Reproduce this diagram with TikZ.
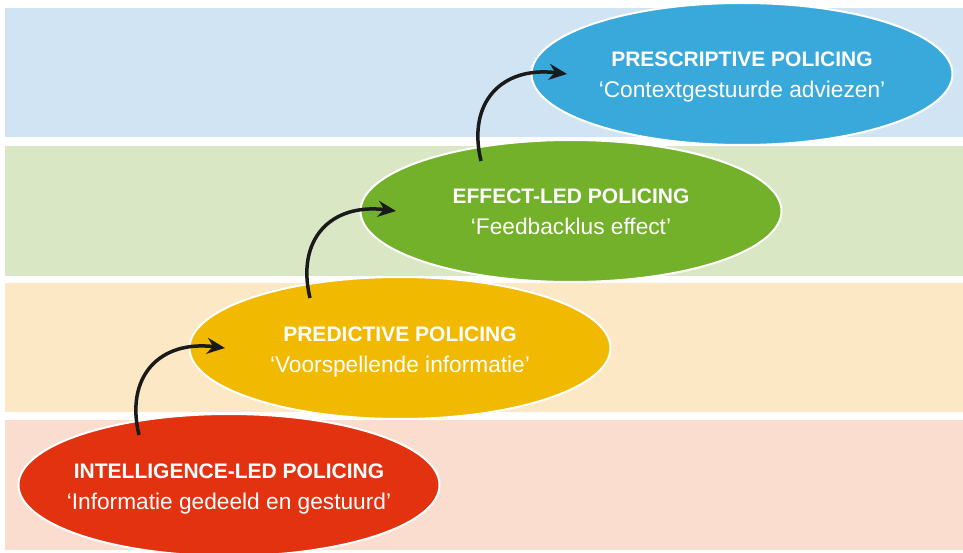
\documentclass[tikz,border=0pt]{standalone}
\usepackage{fontspec}
\setmainfont{Liberation Sans}
\usetikzlibrary{arrows.meta,shapes.geometric}
\definecolor{bandB}{RGB}{209,228,243}
\definecolor{bandG}{RGB}{218,231,197}
\definecolor{bandO}{RGB}{252,232,196}
\definecolor{bandR}{RGB}{250,221,206}
\definecolor{stageB}{RGB}{57,169,219}
\definecolor{stageG}{RGB}{114,177,41}
\definecolor{stageO}{RGB}{241,185,0}
\definecolor{stageR}{RGB}{227,50,16}
\definecolor{arrowK}{RGB}{26,26,26}
\newcommand{\drawband}[3]{\fill[#1] (5,#2) rectangle (963,#3);}
\tikzset{
  stage/.style={ellipse, fill=#1, draw=white, line width=2pt,
    minimum width=421pt, minimum height=142pt, inner sep=0pt},
  stagetitle/.style={text=white, font=\bfseries\fontsize{21}{25}\selectfont,
    anchor=base, yshift=7pt, inner sep=0pt},
  stagesub/.style={text=white, font=\fontsize{22.7}{27}\selectfont,
    anchor=base, yshift=-24pt, inner sep=0pt},
  climb/.style={arrowK, line width=3.5pt,
    -{Stealth[length=18pt, width=16pt, inset=6pt]}}
}
\begin{document}
\begin{tikzpicture}[x=1pt,y=-1pt]
\path[use as bounding box, fill=white] (0,0) rectangle (963,553);
% bands
\drawband{bandB}{8}{137}
\drawband{bandG}{146}{276}
\drawband{bandO}{283}{412}
\drawband{bandR}{420}{550}
% stages
\node[stage=stageB] (spp) at (742,74) {};
\node[stage=stageG] (elp) at (571,211) {};
\node[stage=stageO] (pp) at (400,348) {};
\node[stage=stageR] (ilp) at (229,485) {};
\foreach \st/\head/\sub in {ilp/INTELLIGENCE-LED POLICING/‘Informatie gedeeld en gestuurd’,
    pp/PREDICTIVE POLICING/‘Voorspellende informatie’,
    elp/EFFECT-LED POLICING/‘Feedbacklus effect’,
    spp/PRESCRIPTIVE POLICING/‘Contextgestuurde adviezen’}{
  \node[stagetitle] (\st-head) at (\st) {\head};
  \node[stagesub] (\st-sub) at (\st) {\sub};
}
% arrows
\foreach \lo/\hi in {ilp/pp, pp/elp, elp/spp}
  \draw[climb] ([shift={(-90,-50)}]\lo.center) .. controls +(-14,-58) and +(-66,-8) .. ([shift={(-175,0)}]\hi.center);
\end{tikzpicture}
\end{document}
